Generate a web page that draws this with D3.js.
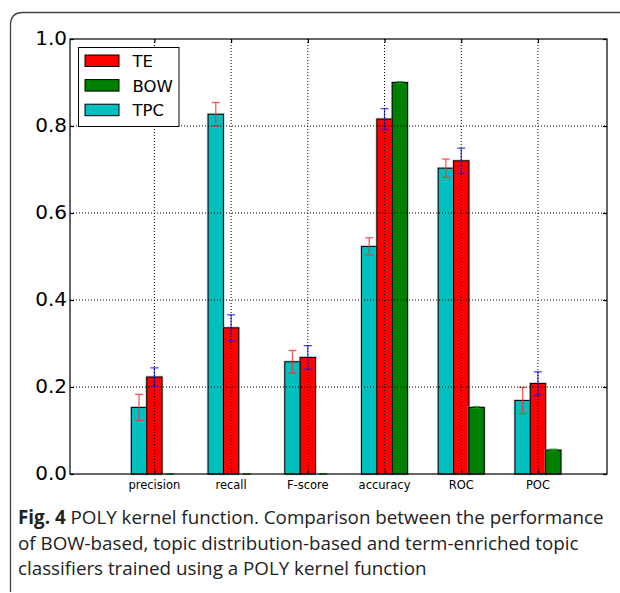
<html>
<meta charset="utf-8" />
<head>
<title>Fig. 4 POLY kernel function</title>
<script src="https://cdn.jsdelivr.net/npm/d3@7/dist/d3.min.js"></script>
<style>
	body { margin: 0; background: #fff; }
	svg { display: block; }
</style>
</head>
<body>
<svg id="chart" width="620" height="593"></svg>
<script>
// 분류기별 성능 (막대 높이, 오차)
const categories = ['precision', 'recall', 'F-score', 'accuracy', 'ROC', 'POC'];
const tpcValues = [0.153, 0.827, 0.258, 0.523, 0.703, 0.169];
const tpcErrors = [0.030, 0.027, 0.026, 0.020, 0.021, 0.030];
const teValues = [0.223, 0.336, 0.268, 0.816, 0.720, 0.208];
const teErrors = [0.021, 0.030, 0.027, 0.024, 0.029, 0.027];
const bowValues = [0.000, 0.000, 0.000, 0.900, 0.153, 0.055];
const bowErrors = [0.000, 0.000, 0.000, 0.002, 0.002, 0.002];
const yTicks = [0.0, 0.2, 0.4, 0.6, 0.8, 1.0];
const legendNames = ['TE', 'BOW', 'TPC'];

const svg = d3.select('#chart');
const plotL = 70, plotR = 607, plotT = 39, plotB = 474;
const barW = 0.2;

let xScale = d3.scaleLinear().domain([0, 7]).range([plotL, plotR]);
let yScale = d3.scaleLinear().domain([0, 1]).range([plotB, plotT]);

// 바깥 테두리 (둥근 모서리, 위/왼쪽만)
svg.append('path')
	.attr('d', 'M10.5,592 L10.5,25 Q10.5,12.5 23,12.5 L620,12.5')
	.attr('fill', 'none')
	.attr('stroke', '#444')
	.attr('stroke-width', 1.3);

// 시리즈 정의: TPC, TE, BOW 순으로 나란히
const series = [
	{ name: 'TPC', values: tpcValues, errors: tpcErrors, offset: -0.2, fill: '#00bfbf', err: '#ff3030' },
	{ name: 'TE', values: teValues, errors: teErrors, offset: 0.0, fill: '#ff0000', err: '#1a1aff' },
	{ name: 'BOW', values: bowValues, errors: bowErrors, offset: 0.2, fill: '#008000', err: '#1a9a1a' }
];

const plot = svg.append('g');

series.forEach((s) => {
	let rows = categories.map((c, i) => ({ pos: i + 1 + s.offset, v: s.values[i], e: s.errors[i] }));

	// 그림자
	plot.selectAll(null).data(rows).enter()
		.append('rect')
		.attr('x', (d) => xScale(d.pos))
		.attr('y', (d) => yScale(d.v))
		.attr('width', xScale(barW) - xScale(0))
		.attr('height', (d) => yScale(0) - yScale(d.v))
		.attr('fill', 'none')
		.attr('stroke', '#999')
		.attr('stroke-opacity', 0.5)
		.attr('stroke-width', 2.6);

	plot.selectAll(null).data(rows).enter()
		.append('rect')
		.attr('x', (d) => xScale(d.pos))
		.attr('y', (d) => yScale(d.v))
		.attr('width', xScale(barW) - xScale(0))
		.attr('height', (d) => yScale(0) - yScale(d.v))
		.attr('fill', s.fill)
		.attr('stroke', '#000')
		.attr('stroke-width', 1);
});

// 격자 (막대 위에 점선)
const xTickPos = categories.map((c, i) => i + 1.1);
let grid = svg.append('g')
	.attr('stroke', '#000')
	.attr('stroke-width', 1)
	.attr('stroke-dasharray', '1,2');
grid.selectAll('line.vx').data(xTickPos).enter()
	.append('line')
	.attr('x1', (d) => xScale(d)).attr('x2', (d) => xScale(d))
	.attr('y1', plotT).attr('y2', plotB);
grid.selectAll('line.hy').data(yTicks.slice(1, -1)).enter()
	.append('line')
	.attr('x1', plotL).attr('x2', plotR)
	.attr('y1', (d) => yScale(d)).attr('y2', (d) => yScale(d));

// 오차 막대
series.forEach((s) => {
	let rows = categories.map((c, i) => ({ cx: xScale(i + 1 + s.offset + barW / 2), v: s.values[i], e: s.errors[i] }));
	let eg = plot.append('g')
		.attr('stroke', s.err)
		.attr('stroke-opacity', 0.8)
		.attr('stroke-width', 1.3);
	eg.selectAll(null).data(rows).enter()
		.append('line')
		.attr('x1', (d) => d.cx).attr('x2', (d) => d.cx)
		.attr('y1', (d) => yScale(d.v - d.e)).attr('y2', (d) => yScale(d.v + d.e));
	['lo', 'hi'].forEach((k) => {
		eg.selectAll(null).data(rows).enter()
			.append('line')
			.attr('x1', (d) => d.cx - 4).attr('x2', (d) => d.cx + 4)
			.attr('y1', (d) => yScale(k === 'lo' ? d.v - d.e : d.v + d.e))
			.attr('y2', (d) => yScale(k === 'lo' ? d.v - d.e : d.v + d.e));
	});
});

// 축 테두리
svg.append('rect')
	.attr('x', plotL).attr('y', plotT)
	.attr('width', plotR - plotL).attr('height', plotB - plotT)
	.attr('fill', 'none')
	.attr('stroke', '#000')
	.attr('stroke-width', 1.2);

// 안쪽 눈금
let xAxisB = d3.axisBottom(xScale).tickValues(xTickPos).tickSize(-4).tickFormat('');
let xAxisT = d3.axisTop(xScale).tickValues(xTickPos).tickSize(-4).tickFormat('');
let yAxisL = d3.axisLeft(yScale).tickValues(yTicks).tickSize(-4).tickFormat('');
let yAxisR = d3.axisRight(yScale).tickValues(yTicks).tickSize(-4).tickFormat('');
[[xAxisB, `translate(0,${plotB})`], [xAxisT, `translate(0,${plotT})`],
 [yAxisL, `translate(${plotL},0)`], [yAxisR, `translate(${plotR},0)`]].forEach(([ax, tr]) => {
	let g = svg.append('g').attr('transform', tr).call(ax);
	g.select('.domain').remove();
	g.selectAll('line').attr('stroke', '#000').attr('stroke-width', 1.2);
});

// 눈금 라벨
svg.selectAll('text.ylab').data(yTicks).enter()
	.append('text')
	.attr('x', plotL - 3)
	.attr('y', (d) => yScale(d) + 6)
	.attr('text-anchor', 'end')
	.attr('font-family', 'DejaVu Sans')
	.attr('font-size', 20)
	.text((d) => d.toFixed(1));

svg.selectAll('text.xlab').data(categories).enter()
	.append('text')
	.attr('x', (d, i) => xScale(i + 1.1))
	.attr('y', 489)
	.attr('text-anchor', 'middle')
	.attr('font-family', 'DejaVu Sans')
	.attr('font-size', 11.5)
	.text((d) => d);

// 범례
let legend = svg.append('g');
legend.append('rect')
	.attr('x', 78.5).attr('y', 47.5)
	.attr('width', 100.5).attr('height', 79)
	.attr('fill', '#fff')
	.attr('stroke', '#000')
	.attr('stroke-width', 1);
const legendFill = { TE: '#ff0000', BOW: '#008000', TPC: '#00bfbf' };
legendNames.forEach((n, i) => {
	let y0 = 55 + i * 24.6;
	legend.append('rect')
		.attr('x', 85).attr('y', y0)
		.attr('width', 34).attr('height', 11.5)
		.attr('fill', legendFill[n])
		.attr('stroke', '#000')
		.attr('stroke-width', 1);
	legend.append('text')
		.attr('x', 132.5).attr('y', y0 + 12)
		.attr('font-family', 'DejaVu Sans')
		.attr('font-size', 16.5)
		.text(n);
});

// 캡션
const captionLines = [
	[['Fig. 4', true], [' POLY kernel function. Comparison between the performance', false]],
	[['of BOW-based, topic distribution-based and term-enriched topic', false]],
	[['classifiers trained using a POLY kernel function', false]]
];
captionLines.forEach((parts, i) => {
	let t = svg.append('text')
		.attr('x', 18)
		.attr('y', 524 + i * 25.5)
		.attr('font-family', 'Open Sans')
		.attr('font-size', 18.8)
		.attr('fill', '#222');
	parts.forEach(([s, b]) => {
		t.append('tspan').attr('font-weight', b ? 'bold' : 'normal').text(s);
	});
});
</script>
</body>
</html>
